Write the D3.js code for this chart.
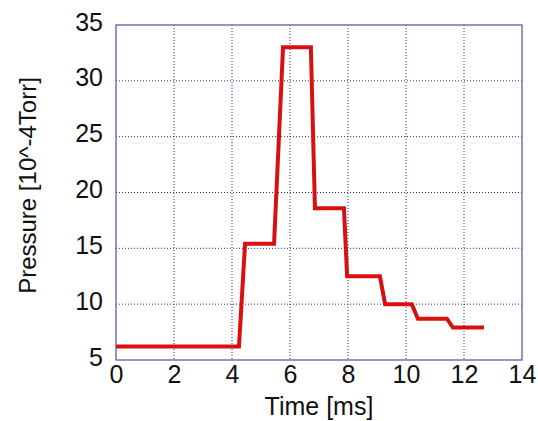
<!DOCTYPE html>
<html>
<head>
<meta charset="utf-8">
<script src="https://cdn.jsdelivr.net/npm/d3@7"></script>
<style>
  body { margin: 0; background: #fff; }
  svg text { font-family: "Liberation Sans", Arial, sans-serif; fill: #111; }
</style>
</head>
<body>
<div id="chart"></div>
<script>
// data (time in ms, pressure in 10^-4 Torr)
const timeMs   = [0, 4.24, 4.45, 5.45, 5.76, 6.72, 6.86, 7.86, 7.97, 9.1, 9.28, 10.2, 10.41, 11.41, 11.62, 12.69];
const pressure = [6.2, 6.2, 15.4, 15.4, 33.0, 33.0, 18.6, 18.6, 12.5, 12.5, 10.0, 10.0, 8.7, 8.7, 7.9, 7.9];
const xTicks = [0, 2, 4, 6, 8, 10, 12, 14];
const yTicks = [5, 10, 15, 20, 25, 30, 35];

let margin = {top: 25, right: 16, bottom: 61, left: 116},
    width = 538 - margin.left - margin.right,
    height = 421 - margin.top - margin.bottom;

let svg = d3.select("#chart")
    .append("svg")
    .attr("width", 538)
    .attr("height", 421)
    .append("g")
    .attr("transform", "translate(" + margin.left + "," + margin.top + ")");

let x = d3.scaleLinear().domain([0, 14]).range([0, width]);
let y = d3.scaleLinear().domain([5, 35]).range([height, 0]);

// grid lines
svg.selectAll(".vgrid")
    .data(xTicks.slice(1, -1))
    .enter()
    .append("line")
    .attr("x1", d => x(d)).attr("x2", d => x(d))
    .attr("y1", 0).attr("y2", height)
    .attr("stroke", "#2a2aa0")
    .attr("stroke-width", 1)
    .attr("stroke-dasharray", "1,2");

svg.selectAll(".hgrid")
    .data(yTicks.slice(1, -1))
    .enter()
    .append("line")
    .attr("x1", 0).attr("x2", width)
    .attr("y1", d => y(d)).attr("y2", d => y(d))
    .attr("stroke", "#2a2aa0")
    .attr("stroke-width", 1)
    .attr("stroke-dasharray", "1,2");

// axes
let xAxis = d3.axisBottom(x).tickValues(xTicks).tickSize(0);
let yAxis = d3.axisLeft(y).tickValues(yTicks).tickSize(0);

let gx = svg.append("g")
    .attr("transform", "translate(0," + height + ")")
    .call(xAxis);
let gy = svg.append("g").call(yAxis);

[gx, gy].forEach(g => {
    g.select(".domain").remove();
    g.selectAll("text").style("font-size", "25px").attr("fill", "#111");
});
gx.selectAll("text").attr("y", 23).attr("dy", 0);
gy.selectAll("text").attr("x", -13).attr("dy", 5);

// frame
svg.append("rect")
    .attr("x", 0).attr("y", 0)
    .attr("width", width).attr("height", height)
    .attr("fill", "none")
    .attr("stroke", "#5c5cab")
    .attr("stroke-width", 1.3);

// the pressure trace
let line = d3.line()
    .x((d, i) => x(timeMs[i]))
    .y(d => y(d));

svg.append("path")
    .datum(pressure)
    .attr("d", line)
    .attr("fill", "none")
    .attr("stroke", "#d81010")
    .attr("stroke-width", 4)
    .attr("stroke-linejoin", "miter");

// labels
svg.append("text")
    .attr("text-anchor", "middle")
    .attr("x", width / 2)
    .attr("y", height + 55)
    .style("font-size", "25px")
    .text("Time [ms]");

svg.append("text")
    .attr("text-anchor", "middle")
    .attr("transform", "translate(" + (-80) + "," + (height / 2 - 7) + ") rotate(-90)")
    .style("font-size", "24px")
    .text("Pressure [10^-4Torr]");
</script>
</body>
</html>
